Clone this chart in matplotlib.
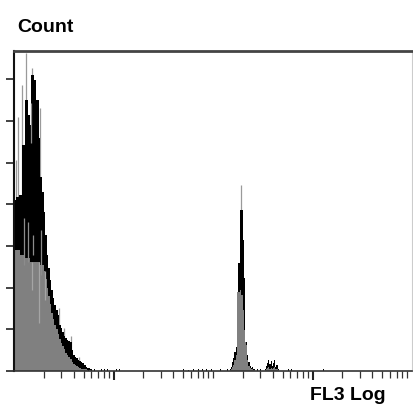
import numpy as np
import matplotlib
matplotlib.use('Agg')
import matplotlib.pyplot as plt

# ---------------- data (x = channel 0..1024 over 4 log decades, y = count) -------------
left_start, left_width = 0, 4
left_high = [205, 209, 209, 211, 211, 271, 271, 325, 325, 307, 295, 355, 355, 349, 325, 325, 280, 233, 215, 191,
             163, 139, 124, 109, 97, 88, 79, 73, 67, 55, 52, 47, 42, 40, 37, 36, 35, 25, 19, 17,
             16, 13, 12, 11, 10, 7, 5, 4, 4, 2]
left_low = [145, 145, 145, 145, 139, 139, 139, 136, 136, 136, 131, 131, 131, 131, 131, 131, 131, 127, 127, 120,
            110, 100, 90, 80, 70, 62, 55, 50, 44, 38, 34, 30, 26, 22, 19, 17, 14, 11, 9, 7,
            6, 5, 4, 3, 3, 2, 2, 1, 1, 1]

right_start, right_width = 555, 3
right_high = [2, 5, 11, 16, 23, 29, 95, 130, 130, 193, 193, 157, 112, 35, 35, 19, 11, 6, 4, 5, 2, 2]
right_low = [1, 2, 5, 7, 13, 19, 95, 95, 95, 97, 91, 73, 49, 35, 31, 13, 6, 4, 2, 2, 1, 1]

bump_start, bump_width = 645, 3
bump_high = [3, 6, 10, 13, 8, 12, 6, 10, 13, 5, 7, 2]
bump_low = [1, 2, 4, 5, 3, 4, 2, 4, 5, 2, 2, 1]

noise_ch = [190, 198, 206, 224, 231, 239, 262, 270, 434, 447, 460, 473, 483, 494, 506, 530, 547,
            625, 632, 704, 712, 794]
noise_cnt = [2, 2, 3, 2, 2, 3, 2, 2, 2, 1, 2, 2, 3, 2, 2, 2, 3, 2, 2, 3, 2, 2]

spike_ch = [4, 10, 20, 31, 47, 67, 115, 129, 146, 167, 583]
spike_top = [253, 305, 343, 382, 364, 316, 76, 52, 42, 17, 223]

dip_ch = [25, 35, 44, 49, 70]
dip_bottom = [127, 131, 274, 139, 115]
dip_top = [184, 179, 322, 163, 169]

gdip_ch = [46, 65, 80]
gdip_bottom = [97, 58, 85]
gdip_top = [131, 131, 120]

decades = [1, 10, 100, 1000, 10000]
major_vals = [10, 1000]
y_ticks = [0, 50, 100, 150, 200, 250, 300, 350]
x_label = 'FL3 Log'
y_label = 'Count'

# ---------------- figure ----------------
W, H = 413, 405
fig = plt.figure(figsize=(W / 100, H / 100), dpi=100)
ax = fig.add_axes([14 / W, (H - 371) / H, 398 / W, 320 / H])
ax.set_xlim(0, 1024)
ax.set_ylim(0, 384)

GREY = '#808080'


def draw(start, width, high, low):
    edges = start + width * np.arange(len(high) + 1)
    ax.stairs(low, edges, fill=True, color=GREY, lw=0, zorder=2)
    ax.stairs(high, edges, baseline=low, fill=True, color='black', lw=0, zorder=2)


# thin spikes (behind the fills)
ax.vlines(spike_ch, 0, spike_top, colors='#9a9a9a', lw=0.9, zorder=1)

draw(left_start, left_width, left_high, left_low)
draw(right_start, right_width, right_high, right_low)
draw(bump_start, bump_width, bump_high, bump_low)
ax.bar(noise_ch, noise_cnt, width=3, align='edge', color='black', lw=0, zorder=2)

ax.vlines(dip_ch, dip_bottom, dip_top, colors='#8c8c8c', lw=0.9, zorder=3)
ax.vlines(gdip_ch, gdip_bottom, gdip_top, colors='#a5a5a5', lw=0.9, zorder=3)

# ticks
minor_pos, major_pos = [], []
for d in decades[:-1]:
    for m in range(1, 10):
        v = d * m
        p = 256 * np.log10(v)
        if v in major_vals:
            major_pos.append(p)
        elif v > 1:
            minor_pos.append(p)
ax.set_xticks(major_pos)
ax.set_xticks(minor_pos, minor=True)
ax.set_yticks(y_ticks)
ax.tick_params(axis='x', which='major', direction='out', length=6.5, width=1.5, color='#222222',
               labelbottom=False)
ax.tick_params(axis='x', which='minor', direction='out', length=5, width=0.9, color='#333333')
ax.tick_params(axis='y', which='major', direction='out', length=5.8, width=1.2, color='#222222',
               labelleft=False)

ax.spines['left'].set_linewidth(1.5)
ax.spines['left'].set_color('#111111')
ax.spines['bottom'].set_linewidth(1.2)
ax.spines['bottom'].set_color('#333333')
ax.spines['top'].set_linewidth(2.0)
ax.spines['top'].set_color('#444444')
ax.spines['right'].set_linewidth(0.8)
ax.spines['right'].set_color('#cccccc')

fig.text(17 / W, 1 - 32 / H, y_label, fontsize=14, fontweight='bold', family='Liberation Sans',
         ha='left', va='baseline')
fig.text(310 / W, 1 - 400 / H, x_label, fontsize=14, fontweight='bold', family='Liberation Sans',
         ha='left', va='baseline')

fig.savefig('out.png', dpi=100)
